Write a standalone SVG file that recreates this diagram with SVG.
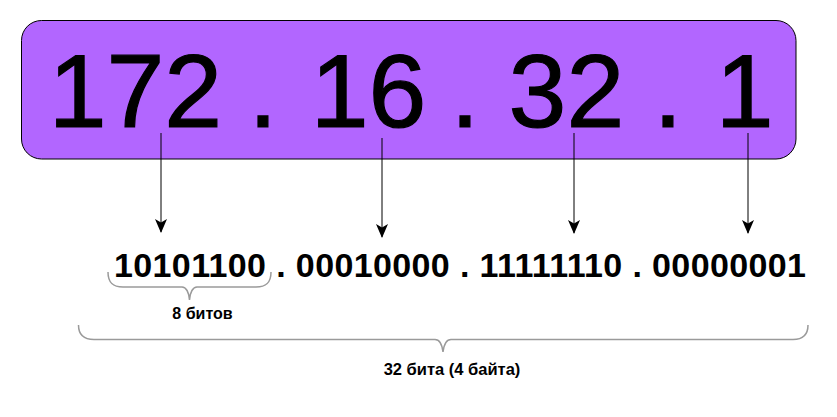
<svg xmlns="http://www.w3.org/2000/svg" width="837" height="417" viewBox="0 0 837 417">
  <defs>
    <marker id="arr" markerWidth="14" markerHeight="12" viewBox="0 0 14 12" refX="13" refY="6" orient="auto" markerUnits="userSpaceOnUse">
      <path d="M0,0 L14,6 L0,12 L3.5,6 Z" fill="#000"/>
    </marker>
  </defs>
  <style>
    .big { font-family: "Liberation Sans", Arial, sans-serif; font-size: 104px; fill: #000; stroke: #000; stroke-width: 1.2; }
    .bin { font-family: "Liberation Sans", Arial, sans-serif; font-size: 34px; font-weight: bold; fill: #000; }
    .lbl { font-family: "Liberation Sans", Arial, sans-serif; font-size: 16.5px; font-weight: bold; fill: #000; text-anchor: middle; }
    .brace { fill: none; stroke: #9a9a9a; stroke-width: 1.5; }
    .conn { fill: none; stroke: #000; stroke-width: 1; }
  </style>
  <rect width="837" height="417" fill="#fff"/>
  <g id="ip-box">
    <rect x="21.5" y="20.5" width="774.5" height="138.5" rx="20" ry="20" fill="#B266FF" stroke="#000" stroke-width="1"/>
    <text class="big" x="48.7" y="127">172</text>
    <text class="big" x="248.6" y="127">.</text>
    <text class="big" x="310.7" y="127">16</text>
    <text class="big" x="450.6" y="127">.</text>
    <text class="big" x="508.6" y="127">32</text>
    <text class="big" x="653.6" y="127">.</text>
    <text class="big" x="715.7" y="127">1</text>
  </g>
  <g id="binary">
    <text class="bin" x="114" y="277" textLength="692" lengthAdjust="spacing">10101100 . 00010000 . 11111110 . 00000001</text>
  </g>
  <g id="brace-8">
    <path class="brace" d="M108,272 C108,282 112,287 123,287 L182,287 C186,287 189,292 189.5,300 C190,292 193,287 197,287 L256,287 C267,287 271,282 271,272"/>
    <text class="lbl" x="202.5" y="318.5" style="font-size:16px">8 битов</text>
  </g>
  <g id="brace-32">
    <path class="brace" d="M78.5,325 C78.5,334 83,339.5 94,339.5 L435,339.5 C439,339.5 442,344 443,352 C444,344 447,339.5 451,339.5 L793,339.5 C804,339.5 808,334 808,325"/>
    <text class="lbl" x="452" y="374.5">32 бита (4 байта)</text>
  </g>
  <g id="connectors">
    <line class="conn" x1="161" y1="133" x2="161" y2="232" marker-end="url(#arr)"/>
    <line class="conn" x1="382" y1="138" x2="382" y2="237" marker-end="url(#arr)"/>
    <line class="conn" x1="574" y1="133" x2="574" y2="233" marker-end="url(#arr)"/>
    <line class="conn" x1="748" y1="133" x2="748" y2="233" marker-end="url(#arr)"/>
  </g>
</svg>
